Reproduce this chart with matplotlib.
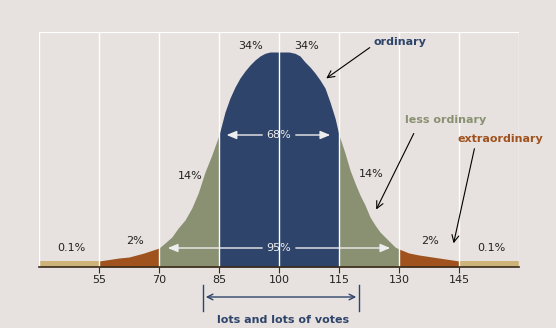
import numpy as np
import matplotlib
matplotlib.use("Agg")
from matplotlib import pyplot as plt

# curve (x in score units, height in pixels)
xs = [40, 55, 60, 62.5, 66.25, 70, 71.5, 73.2, 74.8, 76.5, 78.2, 79.8, 81.5, 83.2, 85,
      86.5, 87.75, 89, 90.25, 91.5, 92.75, 94, 95.25, 96.5, 97.75, 102.5, 104, 105.25,
      106.5, 107.75, 109, 110.25, 111.5, 112.75, 114, 115, 116.5, 117.75, 119, 120.25,
      121.5, 122.75, 124, 125.25, 126.5, 127.75, 129, 130, 132.5, 135, 140, 145, 160]
hs = [6, 6, 9, 10, 14, 19, 24, 30, 39, 47, 59, 74, 95, 112, 132,
      155, 169, 180, 189, 196, 202, 207, 211, 213.7, 215, 215, 213.7, 211,
      205, 200, 194, 187, 179, 165, 149, 132, 114, 97, 84, 72,
      62, 50, 42, 35, 30, 25, 20, 18, 14, 12, 9, 6, 6]

ticks = [55, 70, 85, 100, 115, 130, 145]
grid_x = [40, 55, 70, 85, 100, 115, 130, 145, 160]

# (from, to, colour)
bands = [(40, 55, '#CDB27A'), (55, 70, '#A0521E'), (70, 85, '#8A9172'),
         (85, 115, '#2E446A'), (115, 130, '#8A9172'), (130, 145, '#A0521E'),
         (145, 160, '#CDB27A')]

pct_labels = [(93, 221, '34%'), (107, 221, '34%'), (77.75, 91, '14%'), (123, 93, '14%'),
              (64, 26, '2%'), (137.75, 26, '2%'), (48, 19, '0.1%'), (153, 19, '0.1%')]

bg = '#E7E2DF'
blue = '#2E446A'

fig = plt.figure(figsize=(5.56, 3.28), dpi=100, facecolor=bg)
ax = fig.add_axes([39/556, 1-267/328, 480/556, 235/328], facecolor=bg)

x = np.array(xs)
h = np.array(hs)
for a, b, c in bands:
    m = (x >= a) & (x <= b)
    ax.fill_between(x[m], 0, h[m], color=c, lw=0, zorder=1)

for gx in grid_x:
    ax.axvline(gx, color='white', lw=1, zorder=2)
ax.axhline(235, color='white', lw=1.5, zorder=2)

ax.set_xlim(40, 160)
ax.set_ylim(0, 235)
for s in ['top', 'left', 'right']:
    ax.spines[s].set_visible(False)
ax.spines['bottom'].set_color('#3A2A1A')
ax.spines['bottom'].set_linewidth(1.2)
ax.spines['bottom'].set_zorder(3)
ax.set_xticks(ticks)
ax.set_xticklabels([str(t) for t in ticks], fontsize=8, color='#222222')
ax.tick_params(axis='x', length=4, color='#3A2A1A', pad=2)
ax.set_yticks([])

for tx, ty, s in pct_labels:
    ax.text(tx, ty, s, ha='center', va='center', fontsize=8, color='#222222', zorder=4)

# white range arrows
wc = '#EEEEEE'
ax.text(100, 132, '68%', ha='center', va='center', fontsize=8, color=wc, zorder=4)
ax.text(100, 19, '95%', ha='center', va='center', fontsize=8, color=wc, zorder=4)
for x0, x1, y in [(96.5, 86.2, 132), (103.5, 113.5, 132), (96.5, 71.5, 19), (103.5, 128.5, 19)]:
    ax.annotate('', xy=(x1, y), xytext=(x0, y),
                arrowprops=dict(arrowstyle='-|>,head_length=0.6,head_width=0.25', color=wc, lw=1),
                zorder=4)

# callouts
ax.text(123.5, 225, 'ordinary', color=blue, fontsize=8, fontweight='bold',
        ha='left', va='center')
ax.text(131.5, 147, 'less ordinary', color='#8A9172', fontsize=8, fontweight='bold',
        ha='left', va='center')
ax.text(144.75, 128, 'extraordinary', color='#A0521E', fontsize=8, fontweight='bold',
        ha='left', va='center')
for s, e in [((123.25, 221), (111.25, 187)), ((134, 136), (124, 55)), ((149, 121), (143.5, 21))]:
    ax.annotate('', xy=e, xytext=s,
                arrowprops=dict(arrowstyle='->,head_length=0.5,head_width=0.25', color='black', lw=0.8))

# bracket below the axis
ax.plot([81, 81], [-18, -44], color=blue, lw=1, clip_on=False)
ax.plot([120, 120], [-18, -44], color=blue, lw=1, clip_on=False)
ax.annotate('', xy=(81, -30), xytext=(120, -30), annotation_clip=False,
            arrowprops=dict(arrowstyle='<->,head_length=0.4,head_width=0.2', color=blue, lw=1))
ax.text(101, -53, 'lots and lots of votes', color=blue, fontsize=8, fontweight='bold',
        ha='center', va='center')

plt.savefig('out.png', dpi=100, facecolor=bg)
